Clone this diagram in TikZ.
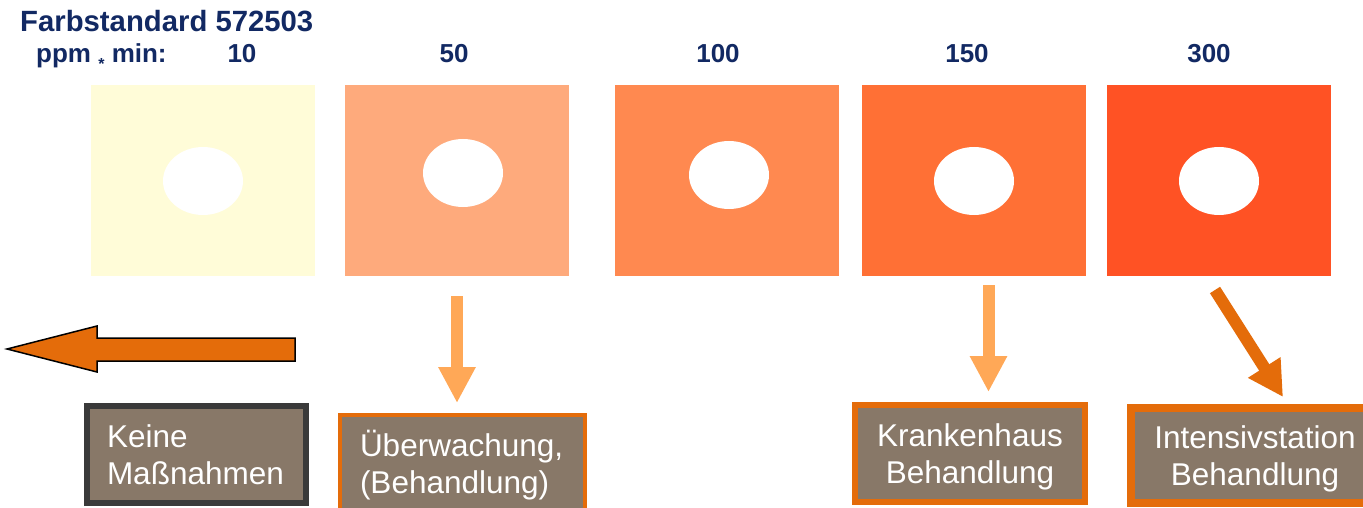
\documentclass[tikz,border=0pt]{standalone}
\usepackage{fontspec}
\setmainfont{Liberation Sans}
\usetikzlibrary{arrows.meta,shapes.geometric,calc}
\definecolor{navy}{RGB}{18,41,99}
\definecolor{swA}{RGB}{255,252,216}
\definecolor{swB}{RGB}{254,170,124}
\definecolor{swC}{RGB}{255,137,80}
\definecolor{swD}{RGB}{255,112,53}
\definecolor{swE}{RGB}{255,82,36}
\definecolor{boxfill}{RGB}{136,120,104}
\definecolor{darkor}{RGB}{228,108,10}
\definecolor{lightor}{RGB}{255,168,87}
\definecolor{darkgrey}{RGB}{58,58,58}
\newcommand{\bs}{\rule[-7pt]{0pt}{37pt}}
\begin{document}
\begin{tikzpicture}[x=1pt,y=-1pt,
  lbl/.style={font=\fontsize{26}{30}\selectfont\bfseries, text=navy, inner sep=0, anchor=base},
  swatch/.style={minimum width=224pt, minimum height=191pt, inner sep=0, outer sep=0},
  hole/.style={ellipse, fill=white, minimum width=80pt, minimum height=68pt, inner sep=0},
  box/.style={fill=boxfill, inner sep=0, inner xsep=20pt, outer sep=0, text=white,
    font=\fontsize{31.5}{37}\selectfont},
  lightarrow/.style={draw=lightor, line width=12pt, -{Triangle[length=36pt,width=35pt]}},
  darkarrow/.style={draw=darkor, line width=12pt, -{Triangle[length=35pt,width=36pt]}},
  bigarrow/.style={fill=darkor, draw=black, line width=1.5pt, line join=miter}
]
\useasboundingbox (0,0) rectangle (1363,508);
\fill[white] (0,0) rectangle (1363,508);

% titles
\node[lbl, anchor=base west, font=\fontsize{29.3}{33}\selectfont\bfseries] (title) at (20,31.5) {Farbstandard 572503};
\node[lbl, anchor=base west] (unit) at (36,62.5) {ppm {\fontsize{16}{16}\selectfont\raisebox{-7pt}{*}} min:};
\node[lbl] (v1) at (242,62.5) {10};
\node[lbl] (v2) at (454,62.5) {50};
\node[lbl] (v3) at (718,62.5) {100};
\node[lbl] (v4) at (967,62.5) {150};
\node[lbl] (v5) at (1209,62.5) {300};

% swatches
\node[swatch, fill=swA] (sq1) at (203,180.5) {};
\node[swatch, fill=swB] (sq2) at (457,180.5) {};
\node[swatch, fill=swC] (sq3) at (727,180.5) {};
\node[swatch, fill=swD] (sq4) at (974,180.5) {};
\node[swatch, fill=swE] (sq5) at (1219,180.5) {};
\node[hole] (h1) at (203,181) {};
\node[hole] (h2) at (463,173) {};
\node[hole] (h3) at (729,175) {};
\node[hole] (h4) at (974,181) {};
\node[hole] (h5) at (1219,181) {};

% boxes
\node[box, draw=darkgrey, line width=6pt, minimum width=219pt, minimum height=97pt,
  text width=179pt, align=left] (b1) at (196.5,454.5) {\bs Keine\\\bs Maßnahmen};
\node[box, draw=darkor, line width=4pt, minimum width=245pt, minimum height=97pt,
  text width=205pt, align=left] (b2) at (462.5,463) {\bs Überwachung,\\\bs (Behandlung)};
\node[box, draw=darkor, line width=6pt, minimum width=230pt, minimum height=97pt,
  text width=190pt, align=center] (b4) at (970,453.5) {\bs Krankenhaus\\\bs Behandlung};
\node[box, draw=darkor, line width=8pt, minimum width=248pt, minimum height=95pt,
  text width=208pt, align=center] (b5) at (1255,455.5) {\bs Intensivstation\\\bs Behandlung};

% arrows
\draw[bigarrow] (295,338) -- (97,338) -- (97,326) -- (7,349) -- (97,372) -- (97,361) -- (295,361) -- cycle;
\draw[lightarrow] ($(sq2.south)+(0,20)$) -- ($(sq2.south |- b2.north)+(0,-11.5)$);
\draw[lightarrow] ($(sq4.south)+(14.5,9)$) -- ($(sq4.south |- b4.north)+(14.5,-13)$);
\draw[darkarrow] ($(sq5.south)+(-4,14)$) -- ($(b5.north)+(28,-11)$);
\end{tikzpicture}
\end{document}
